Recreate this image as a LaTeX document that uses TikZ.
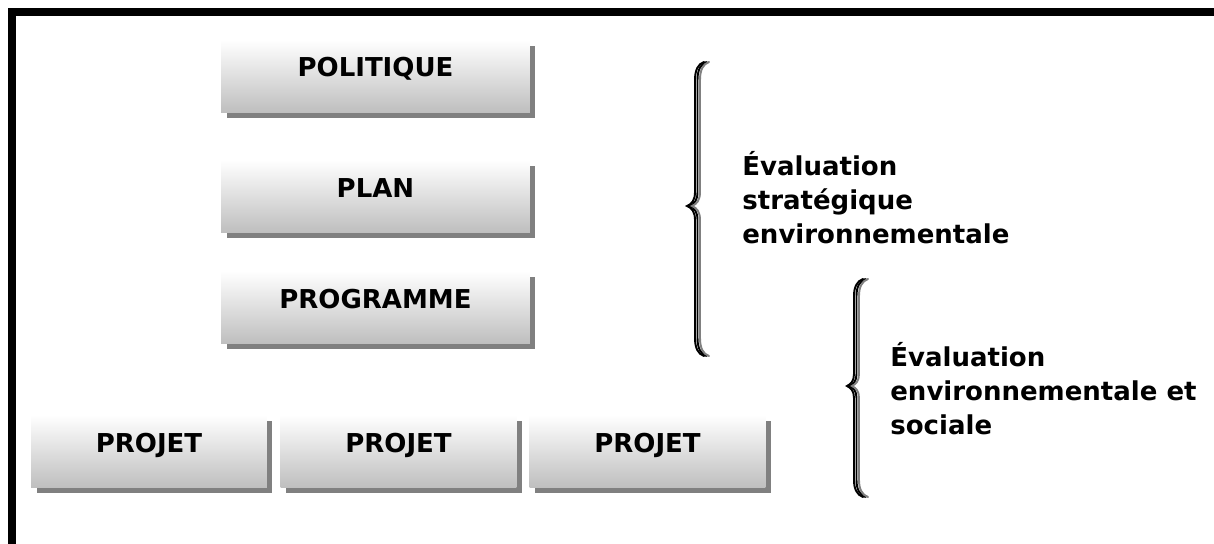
\documentclass[tikz,border=0pt]{standalone}
\usepackage{fontspec}
\setmainfont{DejaVu Sans}
\usepackage{tikz}
\usetikzlibrary{shadows, positioning, calc}

\definecolor{boxgrey}{RGB}{190,190,190}
\definecolor{shadowgrey}{RGB}{128,128,128}

\tikzset{
  level/.style={rectangle, minimum height=1.46cm, inner sep=0pt,
    top color=white, bottom color=boxgrey,
    drop shadow={shadow xshift=0.11cm, shadow yshift=-0.11cm, fill=shadowgrey, opacity=1},
    font=\bfseries\fontsize{14.8}{18}\selectfont, text height=0.38cm, text depth=0.36cm},
  wide/.style={level, minimum width=6.18cm},
  narrow/.style={level, minimum width=4.72cm},
  note/.style={anchor=west, inner sep=0pt, align=left,
    font=\bfseries\fontsize{14.8}{19.4}\selectfont}
}

\begin{document}
\begin{tikzpicture}[x=0.02cm, y=-0.02cm]
\useasboundingbox (0,0) rectangle (1214,544);

% Frame
\draw[line width=0.16cm] (12,544) -- (12,12) -- (1214,12);

% Levels of planning
\node[wide] (politique) at (375.5,76.5) {POLITIQUE};
\node[wide] (plan) at (375.5,196.5) {PLAN};
\node[wide] (programme) at (375.5,307.5) {PROGRAMME};

% Projects
\node[narrow] (projet1) at (149,451.5) {PROJET};
\node[narrow] (projet2) at (398.5,451.5) {PROJET};
\node[narrow] (projet3) at (647.5,451.5) {PROJET};

% Braces, three strokes each
\foreach \d/\c in {0/black, 2.5/black, 5/shadowgrey} {
  \draw[\c, line width=1.1pt, line cap=round]
    (704+\d,62) .. controls (698+\d,64) and (695+\d,70) .. (695+\d,80)
    -- (695+\d,192) .. controls (695+\d,200) and (692+\d,204) .. (687+\d,206)
    .. controls (692+\d,208) and (695+\d,212) .. (695+\d,220)
    -- (695+\d,338) .. controls (695+\d,348) and (698+\d,354) .. (704+\d,356);
  \draw[\c, line width=1.1pt, line cap=round]
    (863+\d,279) .. controls (857+\d,281) and (854+\d,287) .. (854+\d,296)
    -- (854+\d,374) .. controls (854+\d,381) and (851+\d,384) .. (847+\d,386)
    .. controls (851+\d,388) and (854+\d,391) .. (854+\d,398)
    -- (854+\d,480) .. controls (854+\d,489) and (857+\d,495) .. (863+\d,497);
}

% Assessment labels
\node[note] (ese) at (742,197.5) {Évaluation\\stratégique\\environnementale};
\node[note] (ees) at (890,388.5) {Évaluation\\environnementale et\\sociale};
\end{tikzpicture}
\end{document}
